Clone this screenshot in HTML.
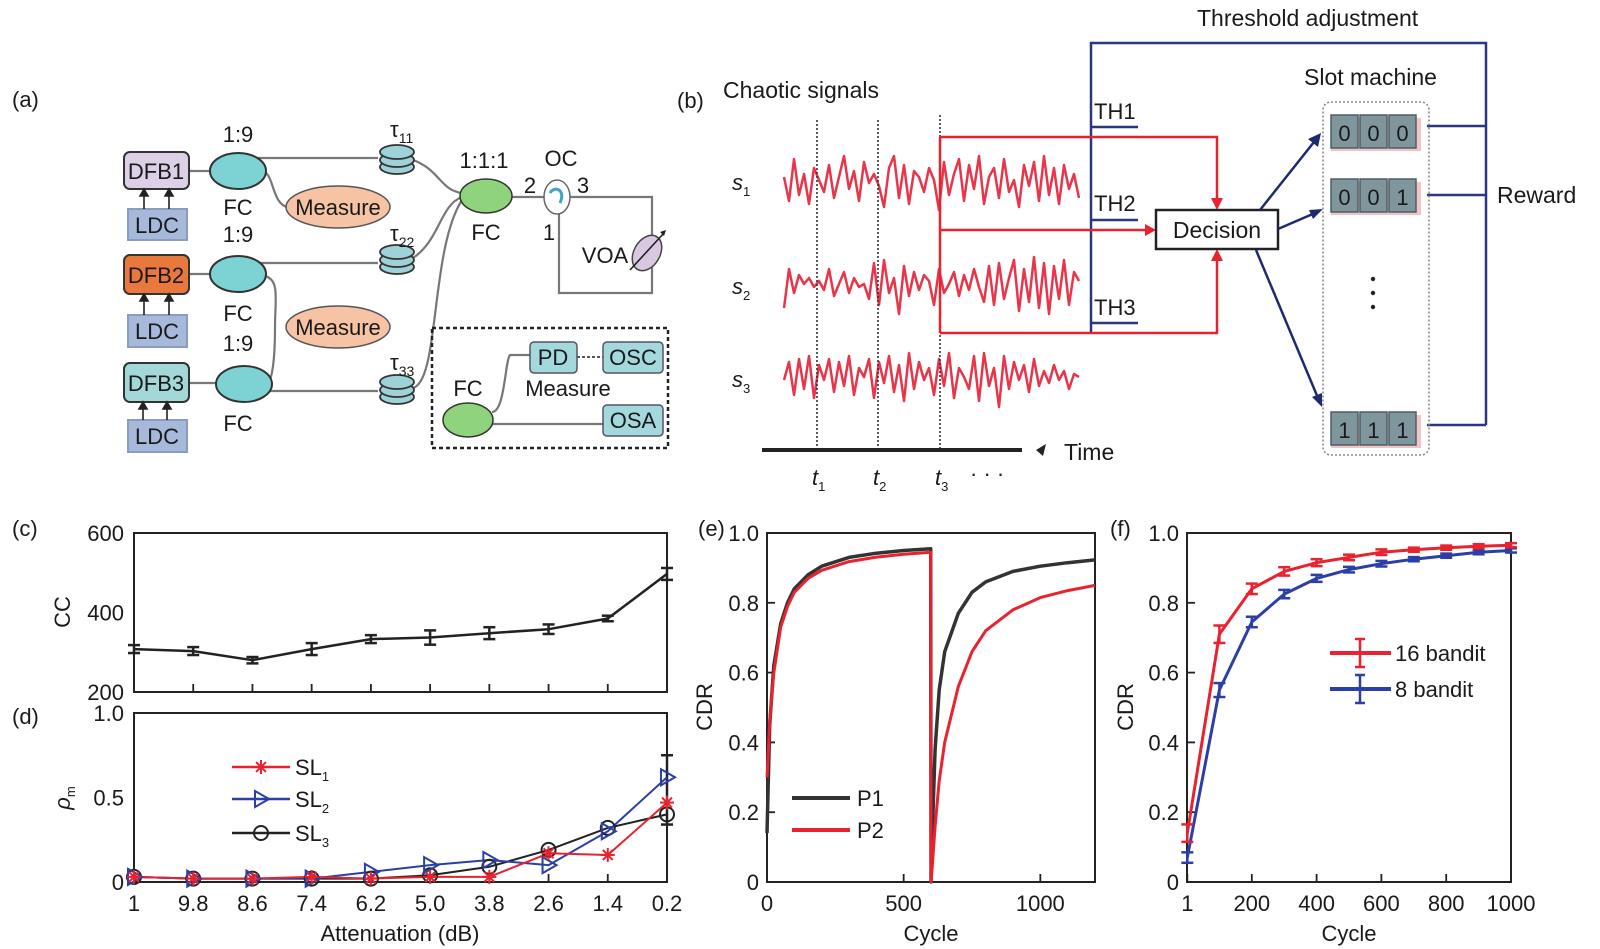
<!DOCTYPE html>
<html><head><meta charset="utf-8"><title>Figure</title>
<style>
html,body{margin:0;padding:0;background:#fff;}
svg{display:block;font-family:"Liberation Sans",sans-serif;}
text{fill:#1a1a1a;}
</style></head>
<body>
<svg id="fig" width="1600" height="949" viewBox="0 0 1600 949" xmlns="http://www.w3.org/2000/svg">
<rect width="1600" height="949" fill="#fff"/>

<!-- ============ PANEL A ============ -->
<g id="panel-a" font-size="22">
  <text x="12" y="107">(a)</text>
  <g fill="none" stroke="#777" stroke-width="2.2">
    <line x1="189" y1="171" x2="212" y2="171"/>
    <line x1="189" y1="274" x2="212" y2="274"/>
    <line x1="189" y1="383" x2="218" y2="383"/>
    <path d="M252 158 L378 158"/>
    <path d="M252 263 L378 263"/>
    <path d="M262 391 L378 391"/>
    <path d="M265 172 C275 180,272 205,290 208"/>
    <path d="M265 276 C280 280,275 300,275 327 C275 360,272 380,268 382"/>
    <path d="M413 160 C440 170,440 190,462 193"/>
    <path d="M413 258 C440 240,440 205,462 197"/>
    <path d="M413 388 C440 380,430 250,462 200"/>
    <path d="M512 197 L544 197"/>
    <path d="M570 197 L652 197 L652 293 L559 293 L559 214"/>
    <path d="M492 412 C505 412,505 360,510 355 L530 355"/>
    <path d="M492 424 L603 424"/>
  </g>
  <line x1="577" y1="357" x2="603" y2="357" stroke="#555" stroke-width="2" stroke-dasharray="3 2"/>
  <g stroke="#333" stroke-width="2">
    <rect x="124" y="152" width="65" height="37" rx="6" fill="#dcd0e6"/>
    <rect x="124" y="255" width="65" height="39" rx="6" fill="#e9783d"/>
    <rect x="124" y="363" width="65" height="39" rx="6" fill="#a3d8d8"/>
    <rect x="128" y="209" width="59" height="31" fill="#a6b9da" stroke="#8a9cc0"/>
    <rect x="128" y="315" width="59" height="32" fill="#a6b9da" stroke="#8a9cc0"/>
    <rect x="128" y="420" width="59" height="32" fill="#a6b9da" stroke="#8a9cc0"/>
  </g>
  <g stroke="#222" stroke-width="1.6" fill="#222">
    <line x1="144" y1="209" x2="144" y2="193"/><path d="M140 196 L144 189 L148 196Z"/>
    <line x1="169" y1="209" x2="169" y2="193"/><path d="M165 196 L169 189 L173 196Z"/>
    <line x1="144" y1="315" x2="144" y2="298"/><path d="M140 301 L144 294 L148 301Z"/>
    <line x1="169" y1="315" x2="169" y2="298"/><path d="M165 301 L169 294 L173 301Z"/>
    <line x1="143" y1="420" x2="143" y2="406"/><path d="M139 409 L143 402 L147 409Z"/>
    <line x1="167" y1="420" x2="167" y2="406"/><path d="M163 409 L167 402 L171 409Z"/>
  </g>
  <text x="156" y="179" text-anchor="middle">DFB1</text>
  <text x="156" y="283" text-anchor="middle">DFB2</text>
  <text x="156" y="391" text-anchor="middle">DFB3</text>
  <text x="157" y="233" text-anchor="middle">LDC</text>
  <text x="157" y="339" text-anchor="middle">LDC</text>
  <text x="157" y="444" text-anchor="middle">LDC</text>
  <g fill="#7dd3d3" stroke="#333" stroke-width="2">
    <ellipse cx="238" cy="171" rx="28" ry="18"/>
    <ellipse cx="238" cy="274" rx="28" ry="18"/>
    <ellipse cx="244" cy="384" rx="28" ry="18"/>
  </g>
  <text x="238" y="142" text-anchor="middle">1:9</text>
  <text x="238" y="215" text-anchor="middle">FC</text>
  <text x="238" y="242" text-anchor="middle">1:9</text>
  <text x="238" y="321" text-anchor="middle">FC</text>
  <text x="238" y="351" text-anchor="middle">1:9</text>
  <text x="238" y="431" text-anchor="middle">FC</text>
  <g fill="#f6c3a4" stroke="#555" stroke-width="1.5">
    <ellipse cx="338" cy="207" rx="52" ry="21"/>
    <ellipse cx="338" cy="327" rx="52" ry="21"/>
  </g>
  <text x="338" y="215" text-anchor="middle">Measure</text>
  <text x="338" y="335" text-anchor="middle">Measure</text>
  <g fill="#9fd2d8" stroke="#333" stroke-width="1.8">
    <g><ellipse cx="397" cy="167" rx="17" ry="7"/><ellipse cx="397" cy="160" rx="17" ry="7"/><ellipse cx="397" cy="152" rx="17" ry="7"/></g>
    <g><ellipse cx="397" cy="267" rx="17" ry="7"/><ellipse cx="397" cy="260" rx="17" ry="7"/><ellipse cx="397" cy="252" rx="17" ry="7"/></g>
    <g><ellipse cx="397" cy="397" rx="17" ry="7"/><ellipse cx="397" cy="390" rx="17" ry="7"/><ellipse cx="397" cy="382" rx="17" ry="7"/></g>
  </g>
  <text x="390" y="137">τ<tspan font-size="14" dy="6">11</tspan></text>
  <text x="390" y="241">τ<tspan font-size="14" dy="6">22</tspan></text>
  <text x="390" y="370">τ<tspan font-size="14" dy="6">33</tspan></text>
  <ellipse cx="486" cy="196" rx="26" ry="17" fill="#8fd37d" stroke="#333" stroke-width="1.5"/>
  <text x="484" y="168" text-anchor="middle">1:1:1</text>
  <text x="486" y="240" text-anchor="middle">FC</text>
  <ellipse cx="557" cy="197" rx="13" ry="17" fill="#fff" stroke="#666" stroke-width="1.5"/>
  <path d="M550 193 C555 185,566 190,560 203" fill="none" stroke="#3aa7c8" stroke-width="3"/>
  <text x="561" y="166" text-anchor="middle">OC</text>
  <text x="530" y="193" text-anchor="middle">2</text>
  <text x="583" y="193" text-anchor="middle">3</text>
  <text x="549" y="240" text-anchor="middle">1</text>
  <ellipse cx="647" cy="253" rx="13" ry="19" transform="rotate(30 647 253)" fill="#d8c8e2" stroke="#444" stroke-width="1.5"/>
  <line x1="630" y1="270" x2="664" y2="233" stroke="#222" stroke-width="1.6"/>
  <path d="M660 232 L666 230 L664 236Z" fill="#222"/>
  <text x="605" y="263" text-anchor="middle">VOA</text>
  <rect x="432" y="328" width="236" height="120" fill="none" stroke="#222" stroke-width="2.5" stroke-dasharray="4 3"/>
  <ellipse cx="468" cy="420" rx="25" ry="17" fill="#8fd37d" stroke="#333" stroke-width="1.5"/>
  <text x="468" y="396" text-anchor="middle">FC</text>
  <g fill="#a3d8dd" stroke="#556" stroke-width="1.5">
    <rect x="530" y="342" width="47" height="31" rx="4"/>
    <rect x="603" y="342" width="60" height="31" rx="4"/>
    <rect x="603" y="405" width="60" height="31" rx="4"/>
  </g>
  <text x="553" y="365" text-anchor="middle">PD</text>
  <text x="633" y="365" text-anchor="middle">OSC</text>
  <text x="633" y="428" text-anchor="middle">OSA</text>
  <text x="568" y="396" text-anchor="middle">Measure</text>
</g>

<!-- ============ PANEL B ============ -->
<g id="panel-b" font-size="22">
  <text x="677" y="108">(b)</text>
  <text x="723" y="98" font-size="23">Chaotic signals</text>
  <text x="1197" y="26" font-size="23">Threshold adjustment</text>
  <text x="1304" y="85" font-size="23">Slot machine</text>
  <text x="1497" y="203" font-size="23">Reward</text>
  <g font-style="italic" font-size="22">
    <text x="732" y="190">s<tspan font-size="13" font-style="normal" dy="6">1</tspan></text>
    <text x="732" y="294">s<tspan font-size="13" font-style="normal" dy="6">2</tspan></text>
    <text x="732" y="387">s<tspan font-size="13" font-style="normal" dy="6">3</tspan></text>
    <text x="812" y="485">t<tspan font-size="13" font-style="normal" dy="6">1</tspan></text>
    <text x="873" y="485">t<tspan font-size="13" font-style="normal" dy="6">2</tspan></text>
    <text x="935" y="485">t<tspan font-size="13" font-style="normal" dy="6">3</tspan></text>
  </g>
  <text x="970" y="481" font-size="22">· · ·</text>
  <g id="signals"></g>
  <g stroke="#333" stroke-width="1.6" stroke-dasharray="2 2">
    <line x1="817" y1="120" x2="817" y2="450"/>
    <line x1="878" y1="120" x2="878" y2="450"/>
    <line x1="940" y1="115" x2="940" y2="450"/>
  </g>
  <line x1="762" y1="450" x2="1022" y2="450" stroke="#222" stroke-width="4"/>
  <path d="M1036 450 L1046 444 L1043 456Z" fill="#222"/>
  <text x="1064" y="460" font-size="23">Time</text>
  <path d="M1091 333 L1091 43 L1486 43 L1486 425" fill="none" stroke="#2b3580" stroke-width="2.5"/>
  <g stroke="#2b3580" stroke-width="2.5">
    <line x1="1091" y1="127" x2="1138" y2="127"/><line x1="1091" y1="220" x2="1138" y2="220"/><line x1="1091" y1="323" x2="1138" y2="323"/>
    <line x1="1427" y1="126" x2="1486" y2="126"/><line x1="1427" y1="195" x2="1486" y2="195"/><line x1="1427" y1="425" x2="1486" y2="425"/>
  </g>
  <text x="1094" y="119">TH1</text>
  <text x="1094" y="211">TH2</text>
  <text x="1094" y="315">TH3</text>
  <g fill="none" stroke="#e8222f" stroke-width="2.5">
    <path d="M940 137 L1217 137 L1217 200"/>
    <path d="M940 230 L1147 230"/>
    <path d="M940 333 L1217 333 L1217 259"/>
    <line x1="940" y1="137" x2="940" y2="333"/>
  </g>
  <g fill="#e8222f">
    <path d="M1211 198 L1217 210 L1223 198Z"/><path d="M1145 224 L1156 230 L1145 236Z"/><path d="M1211 261 L1217 249 L1223 261Z"/>
  </g>
  <rect x="1156" y="210" width="122" height="39" fill="#fff" stroke="#222" stroke-width="2.5"/>
  <text x="1217" y="238" text-anchor="middle" font-size="23">Decision</text>
  <g stroke="#1e2a70" stroke-width="2.5" fill="none">
    <line x1="1260" y1="210" x2="1314" y2="142"/><line x1="1278" y1="229" x2="1315" y2="213"/><line x1="1256" y1="250" x2="1318" y2="398"/>
  </g>
  <g fill="#1e2a70"><path d="M1321 133 L1318 147 L1308 139Z"/><path d="M1323 209 L1313 219 L1309 210Z"/><path d="M1322 407 L1312 397 L1322 393Z"/></g>
  <rect x="1323" y="102" width="106" height="353" rx="8" fill="none" stroke="#888" stroke-width="1.6" stroke-dasharray="2 2"/>
  <g id="slots"></g>
  <g fill="#222"><circle cx="1373" cy="279" r="2.2"/><circle cx="1373" cy="293" r="2.2"/><circle cx="1373" cy="307" r="2.2"/></g>
</g>

<!-- ============ PANEL C-F labels ============ -->
<g font-size="22">
  <text x="12" y="536">(c)</text>
  <text x="12" y="724">(d)</text>
  <text x="698" y="536">(e)</text>
  <text x="1110" y="536">(f)</text>
  <text transform="translate(70 612) rotate(-90)" text-anchor="middle">CC</text>
  <text transform="translate(70 798) rotate(-90)" text-anchor="middle" font-style="italic">ρ<tspan font-size="13" font-style="normal" dy="5">m</tspan></text>
  <text x="400" y="941" text-anchor="middle">Attenuation (dB)</text>
  <text transform="translate(712 707) rotate(-90)" text-anchor="middle">CDR</text>
  <text x="931" y="941" text-anchor="middle">Cycle</text>
  <text transform="translate(1133 707) rotate(-90)" text-anchor="middle">CDR</text>
  <text x="1349" y="941" text-anchor="middle">Cycle</text>
</g>
<g id="charts"></g>
</svg>

<script>
// ---------- data ----------
const signalS1 = [0.2,-0.6,0.8,-0.4,0.3,-0.7,0.5,0.1,-0.3,0.6,-0.5,0.2,0.9,-0.2,0.4,-0.6,0.7,0.0,0.3,-0.1,-0.8,0.5,0.9,-0.5,0.6,-0.7,0.4,0.2,-0.3,0.5,0.1,-0.9,0.7,-0.4,0.3,0.8,-0.6,0.6,-0.2,0.9,-0.7,0.2,0.5,-0.5,0.8,-0.3,0.1,-0.8,0.6,-0.1,0.7,-0.6,0.9,-0.4,0.5,-0.7,0.6,-0.2,0.3,-0.5];
const signalS2 = [-0.7,0.6,-0.2,0.4,0.1,0.3,0.0,0.2,-0.1,0.6,-0.3,0.1,0.5,-0.2,0.3,0.0,0.1,-0.4,0.8,-0.6,0.9,-0.2,0.3,-0.9,0.7,-0.3,0.5,-0.1,0.4,0.2,-0.6,0.6,-0.2,0.1,0.5,-0.3,0.4,-0.1,0.6,0.0,-0.5,0.7,-0.6,0.8,-0.4,0.3,0.9,-0.8,0.6,-0.5,1.0,-0.7,0.8,-0.9,0.7,-0.4,0.9,-0.6,0.5,0.2];
const signalS3 = [0.0,0.6,-0.5,0.7,-0.3,0.8,-0.6,0.5,0.0,0.7,-0.4,0.6,-0.2,0.8,-0.5,0.4,0.1,0.7,-0.6,0.6,-0.1,0.8,-0.4,0.5,-0.7,0.9,-0.3,0.6,0.0,0.4,-0.5,0.7,-0.2,0.9,-0.6,0.4,0.1,-0.3,0.8,-0.7,0.9,-0.2,0.4,-0.9,0.8,-0.3,0.6,0.0,0.5,-0.4,0.7,-0.2,0.3,-0.1,0.5,0.0,0.3,-0.3,0.2,0.1];
const slotCodes = ['000','001','111'];

const dCategories = ['1','9.8','8.6','7.4','6.2','5.0','3.8','2.6','1.4','0.2'];
const ccValues = [308,303,280,308,333,337,348,358,385,497];
const ccErrors = [10,10,8,15,10,18,15,12,7,15];
const ccTicks = [200,400,600];
const sl1Values = [0.03,0.02,0.02,0.03,0.02,0.03,0.03,0.17,0.16,0.47];
const sl2Values = [0.03,0.02,0.02,0.02,0.06,0.10,0.13,0.10,0.30,0.62];
const sl3Values = [0.03,0.02,0.02,0.02,0.02,0.04,0.09,0.19,0.32,0.40];
const rhoTicks = [0,0.5,1.0];
const rhoTickLabels = ['0','0.5','1.0'];

const eCycles = [0,5,10,25,50,75,100,150,200,300,400,500,599,600,605,615,630,650,700,750,800,900,1000,1100,1200];
const p1Values = [0.14,0.30,0.45,0.62,0.74,0.80,0.84,0.88,0.905,0.93,0.942,0.95,0.955,0.0,0.15,0.38,0.55,0.66,0.77,0.83,0.86,0.89,0.905,0.915,0.923];
const p2Values = [0.30,0.38,0.46,0.60,0.73,0.79,0.83,0.87,0.893,0.918,0.931,0.939,0.945,0.0,0.05,0.16,0.29,0.40,0.56,0.66,0.72,0.78,0.815,0.835,0.85];
const eXTicks = [0,500,1000];
const cdrTicks = [0,0.2,0.4,0.6,0.8,1.0];
const cdrTickLabels = ['0','0.2','0.4','0.6','0.8','1.0'];

const fCycles = [1,100,200,300,400,500,600,700,800,900,1000];
const bandit16Values = [0.14,0.71,0.84,0.89,0.915,0.93,0.945,0.952,0.958,0.962,0.965];
const bandit16Errors = [0.025,0.025,0.015,0.012,0.01,0.008,0.008,0.006,0.006,0.006,0.006];
const bandit8Values = [0.07,0.55,0.745,0.825,0.87,0.895,0.912,0.925,0.935,0.945,0.95];
const bandit8Errors = [0.015,0.02,0.015,0.012,0.01,0.008,0.008,0.006,0.006,0.006,0.006];
const fXTicks = [1,200,400,600,800,1000];

// ---------- helpers ----------
const NS='http://www.w3.org/2000/svg';
function mk(tag, attrs, parent){const e=document.createElementNS(NS,tag);for(const k in attrs)e.setAttribute(k,attrs[k]);parent.appendChild(e);return e;}
const RED='#e8222f', BLUE='#2b3fa6', BLK='#222';

const sig=document.getElementById('signals');
[[signalS1,183],[signalS2,287],[signalS3,380]].forEach(function(p,k){
  const step=(1079-784)/(p[0].length-1);
  const d=p[0].map((v,i)=>(i?'L':'M')+(784+i*step).toFixed(1)+' '+(p[1]-v*30).toFixed(1)).join(' ');
  const pa=mk('path',{d:d,fill:'none',stroke:'#e8354a','stroke-width':2.5,'stroke-linejoin':'round'},sig);
  
  
});
const slotsG=document.getElementById('slots');
const slotY=[115,179,412];
slotCodes.forEach(function(code,k){
  const g=mk('g',{},slotsG);
  
  
  mk('rect',{x:1331,y:slotY[k]+3,width:90,height:33,fill:'#f2c4c8'},g);
  for(let j=0;j<3;j++){
    mk('rect',{x:1331+j*29,y:slotY[k],width:27,height:33,fill:'#7f969c',stroke:'#4c5f63','stroke-width':1.5},g);
    const t=mk('text',{x:1344.5+j*29,y:slotY[k]+26,'text-anchor':'middle','font-size':22},g);
    t.textContent=code[j];
  }
});

const charts=document.getElementById('charts');
function axisBox(x0,y0,x1,y1,name){
  const r=mk('rect',{x:x0,y:y0,width:x1-x0,height:y1-y0,fill:'none',stroke:BLK,'stroke-width':2},charts);
  
  
}
function label(x,y,s,anchor,name){
  const t=mk('text',{x:x,y:y,'text-anchor':anchor,'font-size':22},charts);
  t.textContent=s;
  
  
}
function tick(x1,y1,x2,y2){mk('line',{x1:x1,y1:y1,x2:x2,y2:y2,stroke:BLK,'stroke-width':1.8},charts);}
function line(pts,color,name,w){
  const p=mk('path',{d:pts.map((q,i)=>(i?'L':'M')+q[0].toFixed(1)+' '+q[1].toFixed(1)).join(' '),fill:'none',stroke:color,'stroke-width':w||2.5,'stroke-linejoin':'round'},charts);
  
  
}
function errbar(x,ya,yb,color,name){
  const g=mk('g',{stroke:color,'stroke-width':2.5},charts);
  
  
  mk('line',{x1:x,y1:ya,x2:x,y2:yb},g);mk('line',{x1:x-6,y1:ya,x2:x+6,y2:ya},g);mk('line',{x1:x-6,y1:yb,x2:x+6,y2:yb},g);
}

// ---------- panel c ----------
const cx=i=>134+i*(667-134)/9;
const cy=v=>692-(v-200)/400*159;
axisBox(134,533,667,692,'c-plot-frame');
ccTicks.forEach(v=>label(124,cy(v)+8,String(v),'end','c-y-tick'));
dCategories.forEach((c,i)=>{tick(cx(i),692,cx(i),684);});
line(ccValues.map((v,i)=>[cx(i),cy(v)]),BLK,'cc-line',2.5);
ccValues.forEach((v,i)=>errbar(cx(i),cy(v+ccErrors[i]),cy(v-ccErrors[i]),BLK,'cc-errorbar'));

// ---------- panel d ----------
const dy=v=>882-v*169;
axisBox(134,713,667,882,'d-plot-frame');
rhoTicks.forEach((v,i)=>label(124,dy(v)+8,rhoTickLabels[i],'end','d-y-tick'));
dCategories.forEach((c,i)=>{tick(cx(i),882,cx(i),874);label(cx(i),911,c,'middle','d-x-tick');});
errbar(cx(9),dy(0.75),dy(0.34),BLK,'sl3-errorbar');
line(sl3Values.map((v,i)=>[cx(i),dy(v)]),BLK,'sl3-line',2);
line(sl2Values.map((v,i)=>[cx(i),dy(v)]),BLUE,'sl2-line',2);
line(sl1Values.map((v,i)=>[cx(i),dy(v)]),RED,'sl1-line',2);
function star(x,y,c,parent){for(let a=0;a<4;a++){const an=a*Math.PI/4;mk('line',{x1:x-7*Math.cos(an),y1:y-7*Math.sin(an),x2:x+7*Math.cos(an),y2:y+7*Math.sin(an),stroke:c,'stroke-width':2},parent);}}
function tri(x,y,c,parent){mk('path',{d:`M${x-6} ${y-8} L${x+8} ${y} L${x-6} ${y+8}Z`,fill:'none',stroke:c,'stroke-width':2},parent);}
function circ(x,y,c,parent){mk('circle',{cx:x,cy:y,r:7,fill:'none',stroke:c,'stroke-width':2},parent);}
sl3Values.forEach((v,i)=>{const g=mk('g',{},charts);circ(cx(i),dy(v),BLK,g);});
sl2Values.forEach((v,i)=>{const g=mk('g',{},charts);tri(cx(i),dy(v),BLUE,g);});
sl1Values.forEach((v,i)=>{const g=mk('g',{},charts);star(cx(i),dy(v),RED,g);});
[[RED,star,767,'1'],[BLUE,tri,799,'2'],[BLK,circ,833,'3']].forEach(function(L){
  const g=mk('g',{},charts);
  
  
  mk('line',{x1:232,y1:L[2],x2:290,y2:L[2],stroke:L[0],'stroke-width':2.5},g);
  L[1](261,L[2],L[0],g);
  const t=mk('text',{x:295,y:L[2]+8,'font-size':22},g);
  t.textContent='SL';
  const s=mk('tspan',{'font-size':13,dy:6},t);s.textContent=L[3];
});

// ---------- panel e ----------
const ex=c=>767+c/1200*328;
const ey=v=>882-v*349;
axisBox(767,533,1095,882,'e-plot-frame');
cdrTicks.forEach((v,i)=>{tick(767,ey(v),775,ey(v));label(759,ey(v)+8,cdrTickLabels[i],'end','e-y-tick');});
eXTicks.forEach(v=>{tick(ex(v),882,ex(v),874);label(ex(v),911,String(v),'middle','e-x-tick');});
line(eCycles.map((c,i)=>[ex(c),ey(p1Values[i])]),'#333','p1-line',3.5);
line(eCycles.map((c,i)=>[ex(c),ey(p2Values[i])]),RED,'p2-line',3);
[['#333',798,'P1'],[RED,830,'P2']].forEach(function(L){
  const g=mk('g',{},charts);
  
  
  mk('line',{x1:792,y1:L[1],x2:850,y2:L[1],stroke:L[0],'stroke-width':4},g);
  const t=mk('text',{x:857,y:L[1]+8,'font-size':22},g);t.textContent=L[2];
});

// ---------- panel f ----------
const fx=c=>1187+c/1000*324;
axisBox(1187,533,1511,882,'f-plot-frame');
cdrTicks.forEach((v,i)=>{tick(1187,ey(v),1195,ey(v));label(1179,ey(v)+8,cdrTickLabels[i],'end','f-y-tick');});
fXTicks.forEach(v=>{tick(fx(v),882,fx(v),874);label(fx(v),911,String(v),'middle','f-x-tick');});
line(fCycles.map((c,i)=>[fx(c),ey(bandit8Values[i])]),BLUE,'bandit8-line',3);
bandit8Values.forEach((v,i)=>errbar(fx(fCycles[i]),ey(v+bandit8Errors[i]),ey(v-bandit8Errors[i]),BLUE,'bandit8-errorbar'));
line(fCycles.map((c,i)=>[fx(c),ey(bandit16Values[i])]),RED,'bandit16-line',3);
bandit16Values.forEach((v,i)=>errbar(fx(fCycles[i]),ey(v+bandit16Errors[i]),ey(v-bandit16Errors[i]),RED,'bandit16-errorbar'));
[[RED,653,'16 bandit'],[BLUE,689,'8 bandit']].forEach(function(L){
  const g=mk('g',{},charts);
  
  
  mk('line',{x1:1330,y1:L[1],x2:1391,y2:L[1],stroke:L[0],'stroke-width':4},g);
  mk('line',{x1:1360,y1:L[1]-14,x2:1360,y2:L[1]+14,stroke:L[0],'stroke-width':2.5},g);
  mk('line',{x1:1355,y1:L[1]-14,x2:1365,y2:L[1]-14,stroke:L[0],'stroke-width':2.5},g);
  mk('line',{x1:1355,y1:L[1]+14,x2:1365,y2:L[1]+14,stroke:L[0],'stroke-width':2.5},g);
  const t=mk('text',{x:1395,y:L[1]+8,'font-size':22},g);t.textContent=L[2];
});
</script>
</body></html>
